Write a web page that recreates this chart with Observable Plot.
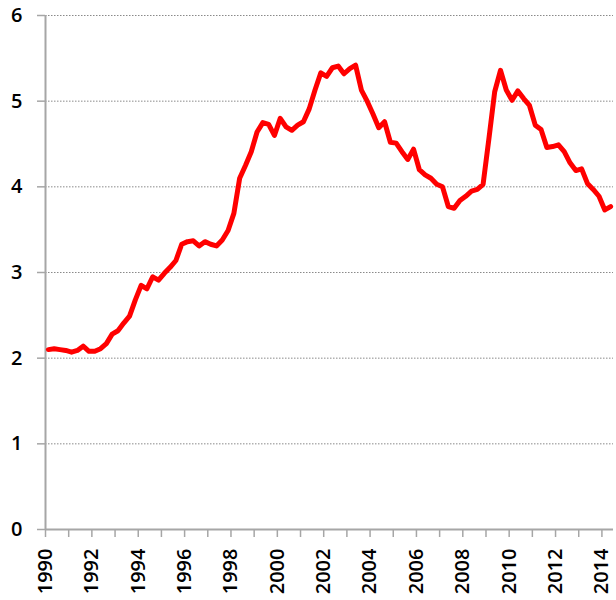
<!DOCTYPE html>
<html>
<head>
<meta charset="utf-8">
<script src="https://cdn.jsdelivr.net/npm/d3@7"></script>
<script src="https://cdn.jsdelivr.net/npm/@observablehq/plot@0.6"></script>
<style>
  html, body { margin: 0; padding: 0; background: #fff; }
  #chart { width: 616px; height: 600px; overflow: hidden; }
</style>
</head>
<body>
<div id="chart"></div>
<script>
// Quarterly values, 1990 Q1 .. 2014 Q2
const startYear = 1990;
const v1990s = [
  2.10, 2.11, 2.10, 2.09,   // 1990
  2.07, 2.09, 2.14, 2.08,   // 1991
  2.08, 2.11, 2.17, 2.28,   // 1992
  2.32, 2.41, 2.49, 2.68,   // 1993
  2.85, 2.81, 2.95, 2.91,   // 1994
  2.99, 3.06, 3.14, 3.33,   // 1995
  3.36, 3.37, 3.31, 3.36,   // 1996
  3.33, 3.31, 3.38, 3.49,   // 1997
  3.69, 4.10, 4.25, 4.41,   // 1998
  4.64, 4.75, 4.73, 4.60    // 1999
];
const v2000s = [
  4.80, 4.70, 4.66, 4.72,   // 2000
  4.76, 4.91, 5.13, 5.33,   // 2001
  5.29, 5.39, 5.41, 5.32,   // 2002
  5.38, 5.42, 5.13, 5.00,   // 2003
  4.85, 4.69, 4.76, 4.52,   // 2004
  4.51, 4.41, 4.32, 4.44,   // 2005
  4.20, 4.14, 4.10, 4.03,   // 2006
  4.00, 3.77, 3.75, 3.84,   // 2007
  3.89, 3.95, 3.97, 4.03,   // 2008
  4.56, 5.11, 5.36, 5.13    // 2009
];
const v2010s = [
  5.01, 5.12, 5.03, 4.95,   // 2010
  4.72, 4.67, 4.46, 4.47,   // 2011
  4.49, 4.41, 4.28, 4.19,   // 2012
  4.21, 4.04, 3.97, 3.89,   // 2013
  3.73, 3.77                // 2014
];
const yTicks = [0, 1, 2, 3, 4, 5, 6];
const gridValues = [1, 2, 3, 4, 5, 6];
const tickYears = d3.range(1990, 2015, 1);
const labelYears = [1990, 1992, 1994, 1996, 1998, 2000, 2002, 2004, 2006, 2008, 2010, 2012, 2014];

const values = [...v1990s, ...v2000s, ...v2010s];
// each quarter is drawn at the middle of its category slot
const data = values.map((v, i) => ({t: startYear + (i + 0.5) / 4, v}));

const axisGrey = "#a6a6a6";

const chart = Plot.plot({
  width: 616,
  height: 600,
  marginLeft: 45,
  marginRight: 3,
  marginTop: 15,
  marginBottom: 71,
  style: {fontFamily: "'Open Sans', sans-serif", fontSize: "20px", fontWeight: "600", color: "#000", background: "#fff", overflow: "visible"},
  x: {domain: [1990, 2014.5], axis: null},
  y: {domain: [0, 6], axis: null},
  marks: [
    Plot.ruleY(gridValues, {stroke: "#8a8a8a", strokeWidth: 1, strokeDasharray: "1.5,1.5"}),
    Plot.axisY({ticks: yTicks, tickSize: 8, tickPadding: 15, stroke: axisGrey, strokeWidth: 1.5, fill: "#000", label: null, tickFormat: d => String(d)}),
    Plot.axisX({ticks: tickYears, tickSize: 8, stroke: axisGrey, strokeWidth: 1.5, label: null, tickFormat: () => ""}),
    Plot.axisX({ticks: labelYears, tickSize: 0, tickRotate: -90, tickPadding: 19, fill: "#000", label: null, tickFormat: d => String(d), style: {letterSpacing: "0.3px"}}),
    Plot.ruleX([1990], {stroke: axisGrey, strokeWidth: 2}),
    Plot.ruleY([0], {stroke: axisGrey, strokeWidth: 2}),
    Plot.line(data, {x: "t", y: "v", stroke: "#ff0000", strokeWidth: 5, strokeLinejoin: "round", strokeLinecap: "round"})
  ]
});
document.getElementById("chart").appendChild(chart);
</script>
</body>
</html>
